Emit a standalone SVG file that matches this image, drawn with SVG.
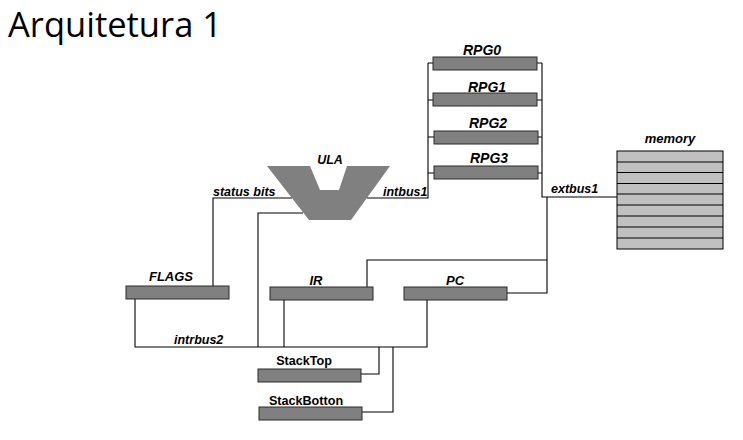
<svg xmlns="http://www.w3.org/2000/svg" width="743" height="440" viewBox="0 0 743 440">
<style>
.reg{fill:#808080;stroke:#2a2a2a;stroke-width:1}
.mem{fill:#c0c0c0;stroke:#000;stroke-width:1}
.ln{fill:none;stroke:#000;stroke-width:1.1}
.lb{font-family:"Liberation Sans",Arial,sans-serif;font-size:12.5px;font-weight:bold;font-style:italic;fill:#000}
.big{font-size:14px}
.med{font-size:13px}
.lbn{font-family:"Liberation Sans",Arial,sans-serif;font-size:12.6px;font-weight:bold;fill:#000}
.c{text-anchor:middle}
</style>
<rect width="743" height="440" fill="#fff"/>
<text x="8" y="37" font-family="'Open Sans','Liberation Sans',sans-serif" font-size="34" textLength="214" lengthAdjust="spacingAndGlyphs" fill="#000">Arquitetura 1</text>

<g id="connectors">
<path class="ln" d="M428,63 V198 H367"/>
<path class="ln" d="M428,63 H433 M428,100 H433 M428,137 H434 M428,173 H434"/>
<path class="ln" d="M537,63 H542 M537,100 H542 M538,137 H542 M538,173 H542"/>
<path class="ln" d="M542,63 V197 H617"/>
<path class="ln" d="M547,197 V293 H507"/>
<path class="ln" d="M547,260 H367 V287"/>
<path class="ln" d="M292,198 H213 V286"/>
<path class="ln" d="M303,213 H258 V347"/>
<path class="ln" d="M135,299 V347 H427 V300"/>
<path class="ln" d="M284,300 V347"/>
<path class="ln" d="M379,347 V374 H361"/>
<path class="ln" d="M393,347 V412 H362"/>
</g>

<g id="RPG0"><rect class="reg" x="433" y="57" width="104" height="13"/><text class="lb big c" x="482" y="55">RPG0</text></g>
<g id="RPG1"><rect class="reg" x="433" y="93" width="104" height="13"/><text class="lb big c" x="487" y="92">RPG1</text></g>
<g id="RPG2"><rect class="reg" x="434" y="131" width="104" height="13"/><text class="lb big c" x="488" y="128">RPG2</text></g>
<g id="RPG3"><rect class="reg" x="434" y="166" width="104" height="13"/><text class="lb big c" x="489" y="163">RPG3</text></g>

<g id="ULA">
<polygon points="267,166 310,166 320,190 339,190 347,166 390,166 351,220 309,220" fill="#808080"/>
<text class="lb c" x="330" y="164">ULA</text>
</g>

<g id="memory">
<rect class="mem" x="617" y="151" width="106" height="98"/>
<path stroke="#000" stroke-width="1" d="M617,162 H723 M617,172.5 H723 M617,183.5 H723 M617,194 H723 M617,205 H723 M617,216 H723 M617,227 H723 M617,238 H723"/>
<text class="lb med c" x="670" y="143">memory</text>
</g>

<g id="FLAGS"><rect class="reg" x="126" y="286" width="103" height="13"/><text class="lb med c" x="171" y="281">FLAGS</text></g>
<g id="IR"><rect class="reg" x="270" y="287" width="103" height="13"/><text class="lb med c" x="316" y="285">IR</text></g>
<g id="PC"><rect class="reg" x="404" y="287" width="103" height="13"/><text class="lb med c" x="455" y="285">PC</text></g>
<g id="StackTop"><rect class="reg" x="258" y="369" width="103" height="13"/><text class="lbn c" x="304" y="365">StackTop</text></g>
<g id="StackBotton"><rect class="reg" x="259" y="407" width="103" height="13"/><text class="lbn c" x="306" y="405">StackBotton</text></g>

<g id="labels">
<text class="lb" x="213" y="196">status bits</text>
<text class="lb" x="383" y="196">intbus1</text>
<text class="lb" x="551" y="193">extbus1</text>
<text class="lb" x="174" y="344">intrbus2</text>
</g>
</svg>
